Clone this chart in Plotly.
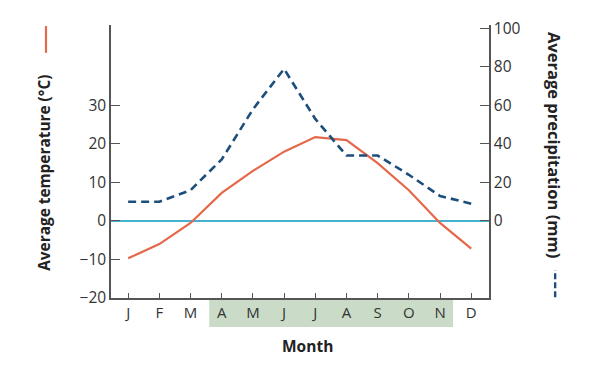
import plotly.graph_objects as go

months = ["J", "F", "M", "A", "M", "J", "J", "A", "S", "O", "N", "D"]
temperature = [-9.7, -6.0, -0.5, 7.3, 13.0, 18.0, 21.8, 21.0, 15.0, 8.0, -0.5, -7.2]
precipitation = [10, 10, 16, 32, 58, 79, 53, 34, 34, 24, 13, 9]
temp_ticks = [-20, -10, 0, 10, 20, 30]
precip_ticks = [0, 20, 40, 60, 80, 100]

RED = "#e4684a"
NAVY = "#1c4e7c"
CYAN = "#45b2d0"
GREEN = "#cadcc7"
AXIS = "#555555"
TXT = "#333333"
FONT = "Open Sans"

x = list(range(len(months)))

fig = go.Figure()
fig.add_trace(go.Scatter(x=x, y=temperature, mode="lines",
                         line=dict(color=RED, width=2.2), yaxis="y", showlegend=False))
fig.add_trace(go.Scatter(x=x, y=precipitation, mode="lines",
                         line=dict(color=NAVY, width=2.6, dash="8px,5px"), yaxis="y2", showlegend=False))

fig.update_layout(
    width=590, height=376,
    margin=dict(l=111, r=101, t=25, b=78),
    paper_bgcolor="white", plot_bgcolor="white",
    font=dict(family=FONT, size=15, color=TXT),
    xaxis=dict(range=[-0.55, 11.57], tickvals=x, ticktext=months,
               showline=True, linecolor=AXIS, linewidth=1.5,
               ticks="inside", ticklen=5, tickcolor=AXIS, tickwidth=1.2,
               showgrid=False, zeroline=False, fixedrange=True,
               tickfont=dict(size=15, color=TXT)),
    yaxis=dict(range=[-20, 50.9], tickvals=temp_ticks,
               showline=True, linecolor=AXIS, linewidth=1.5,
               ticks="inside", ticklen=9, tickcolor=AXIS, tickwidth=1.2,
               showgrid=False, zeroline=True, zerolinecolor=CYAN, zerolinewidth=1.6,
               tickfont=dict(size=15.5, color=TXT)),
    yaxis2=dict(range=[-40, 101.8], tickvals=precip_ticks, overlaying="y", side="right",
                showline=True, linecolor=AXIS, linewidth=1.5,
                ticks="inside", ticklen=9, tickcolor=AXIS, tickwidth=1.2,
                showgrid=False, zeroline=False,
                tickfont=dict(size=15.5, color=TXT)),
)

# green growing-season band under month labels
fig.add_shape(type="rect", xref="x", yref="paper", x0=2.6, x1=10.42, y0=-0.006, y1=-0.106,
              fillcolor=GREEN, line=dict(width=0), layer="below")

# axis titles
fig.add_annotation(text="<b>Month</b>", xref="paper", yref="paper", x=0.52, y=-0.175,
                   xanchor="center", yanchor="middle", showarrow=False,
                   font=dict(size=15.5, color="#222222", family=FONT))
fig.add_annotation(text="<b>Average temperature (°C)</b>", xref="paper", yref="paper",
                   x=-0.175, y=0.458, xanchor="center", yanchor="middle", textangle=-90,
                   showarrow=False, font=dict(size=15.4, color="#222222", family=FONT))
fig.add_annotation(text="<b>Average precipitation (mm)</b>", xref="paper", yref="paper",
                   x=1.175, y=0.56, xanchor="center", yanchor="middle", textangle=90,
                   showarrow=False, font=dict(size=16.5, color="#222222", family=FONT))

# legend keys next to the titles
fig.add_shape(type="line", xref="paper", yref="paper", x0=-0.172, x1=-0.172, y0=0.898, y1=0.996,
              line=dict(color=RED, width=2.2))
fig.add_shape(type="line", xref="paper", yref="paper", x0=1.175, x1=1.175, y0=0.003, y1=0.103,
              line=dict(color=NAVY, width=2.4, dash="6px,3px"))

fig.write_html("out.html", config={"displayModeBar": False},
               post_script="document.body.style.margin='0';")
